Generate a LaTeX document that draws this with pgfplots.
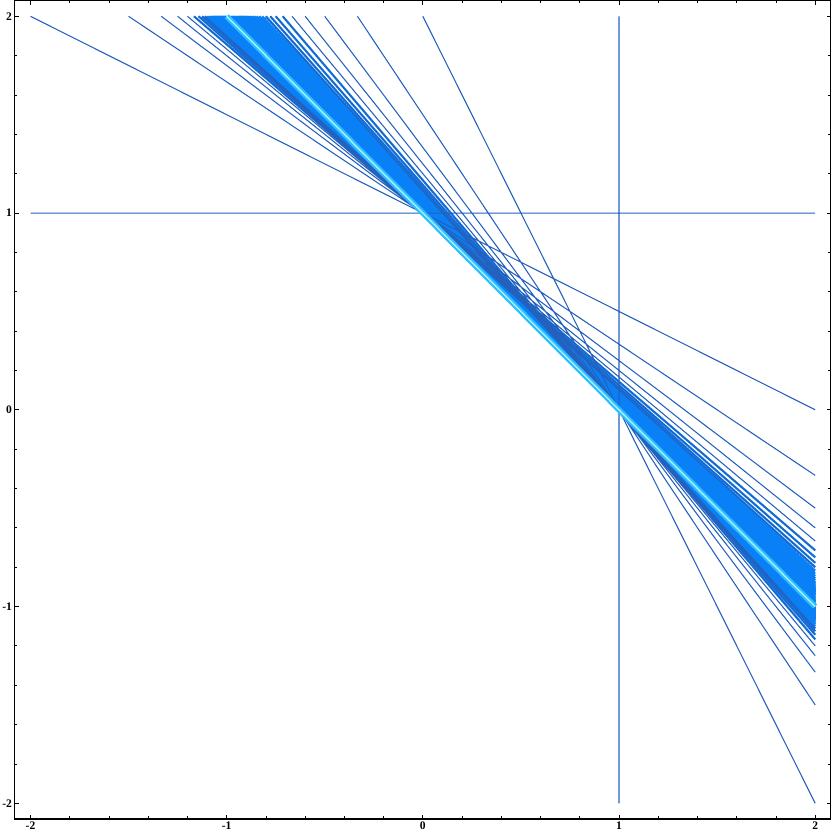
\documentclass[border=0pt]{standalone}
\usepackage{fontspec}
\setmainfont{Liberation Serif}
\usepackage{pgfplots}
\usepackage{pgfplotstable}
\pgfplotsset{compat=1.18}
\definecolor{lineblue}{rgb}{0.14,0.38,0.74}
\definecolor{brightblue}{rgb}{0.04,0.50,0.97}
\definecolor{cyanc}{rgb}{0.18,0.74,1.0}
\definecolor{cyanl}{rgb}{0.65,0.94,1.0}
% columns: x y n  (each segment ended by a nan row)
\pgfplotstableread{
x y n
-2 1 0
2 1 0
nan nan 0
1 2 0
1 -2 0
nan nan 0
-2 2 1
2 0 1
nan nan 1
0 2 1
2 -2 1
nan nan 1
-1.5 2 2
2 -0.3333 2
nan nan 2
-0.3333 2 2
2 -1.5 2
nan nan 2
-1.3333 2 3
2 -0.5 3
nan nan 3
-0.5 2 3
2 -1.3333 3
nan nan 3
-1.25 2 4
2 -0.6 4
nan nan 4
-0.6 2 4
2 -1.25 4
nan nan 4
-1.2 2 5
2 -0.6667 5
nan nan 5
-0.6667 2 5
2 -1.2 5
nan nan 5
-1.1667 2 6
2 -0.7143 6
nan nan 6
-0.7143 2 6
2 -1.1667 6
nan nan 6
-1.1429 2 7
2 -0.75 7
nan nan 7
-0.75 2 7
2 -1.1429 7
nan nan 7
-1.125 2 8
2 -0.7778 8
nan nan 8
-0.7778 2 8
2 -1.125 8
nan nan 8
-1.1111 2 9
2 -0.8 9
nan nan 9
-0.8 2 9
2 -1.1111 9
nan nan 9
-1.1 2 10
2 -0.8182 10
nan nan 10
-0.8182 2 10
2 -1.1 10
nan nan 10
-1.0909 2 11
2 -0.8333 11
nan nan 11
-0.8333 2 11
2 -1.0909 11
nan nan 11
-1.0833 2 12
2 -0.8462 12
nan nan 12
-0.8462 2 12
2 -1.0833 12
nan nan 12
-1.0769 2 13
2 -0.8571 13
nan nan 13
-0.8571 2 13
2 -1.0769 13
nan nan 13
-1.0714 2 14
2 -0.8667 14
nan nan 14
-0.8667 2 14
2 -1.0714 14
nan nan 14
-1.0667 2 15
2 -0.875 15
nan nan 15
-0.875 2 15
2 -1.0667 15
nan nan 15
-1.0625 2 16
2 -0.8824 16
nan nan 16
-0.8824 2 16
2 -1.0625 16
nan nan 16
-1.0588 2 17
2 -0.8889 17
nan nan 17
-0.8889 2 17
2 -1.0588 17
nan nan 17
-1.0556 2 18
2 -0.8947 18
nan nan 18
-0.8947 2 18
2 -1.0556 18
nan nan 18
-1.0526 2 19
2 -0.9 19
nan nan 19
-0.9 2 19
2 -1.0526 19
nan nan 19
-1.05 2 20
2 -0.9048 20
nan nan 20
-0.9048 2 20
2 -1.05 20
nan nan 20
-1.0476 2 21
2 -0.9091 21
nan nan 21
-0.9091 2 21
2 -1.0476 21
nan nan 21
-1.0455 2 22
2 -0.9130 22
nan nan 22
-0.9130 2 22
2 -1.0455 22
nan nan 22
-1.0435 2 23
2 -0.9167 23
nan nan 23
-0.9167 2 23
2 -1.0435 23
nan nan 23
-1.0417 2 24
2 -0.92 24
nan nan 24
-0.92 2 24
2 -1.0417 24
nan nan 24
-1.04 2 25
2 -0.9231 25
nan nan 25
-0.9231 2 25
2 -1.04 25
nan nan 25
-1.0385 2 26
2 -0.9259 26
nan nan 26
-0.9259 2 26
2 -1.0385 26
nan nan 26
-1.037 2 27
2 -0.9286 27
nan nan 27
-0.9286 2 27
2 -1.037 27
nan nan 27
-1.0357 2 28
2 -0.9310 28
nan nan 28
-0.9310 2 28
2 -1.0357 28
nan nan 28
-1.0333 2 30
2 -0.9355 30
nan nan 30
-0.9355 2 30
2 -1.0333 30
nan nan 30
-1.0313 2 32
2 -0.9394 32
nan nan 32
-0.9394 2 32
2 -1.0313 32
nan nan 32
-1.0286 2 35
2 -0.9444 35
nan nan 35
-0.9444 2 35
2 -1.0286 35
nan nan 35
-1.025 2 40
2 -0.9512 40
nan nan 40
-0.9512 2 40
2 -1.025 40
nan nan 40
-1.0222 2 45
2 -0.9565 45
nan nan 45
-0.9565 2 45
2 -1.0222 45
nan nan 45
-1.02 2 50
2 -0.9608 50
nan nan 50
-0.9608 2 50
2 -1.02 50
nan nan 50
-1.0167 2 60
2 -0.9672 60
nan nan 60
-0.9672 2 60
2 -1.0167 60
nan nan 60
-1.0143 2 70
2 -0.9718 70
nan nan 70
-0.9718 2 70
2 -1.0143 70
nan nan 70
-1.0125 2 80
2 -0.9753 80
nan nan 80
-0.9753 2 80
2 -1.0125 80
nan nan 80
-1.01 2 100
2 -0.9802 100
nan nan 100
-0.9802 2 100
2 -1.01 100
nan nan 100
-1.0067 2 150
2 -0.9868 150
nan nan 150
-0.9868 2 150
2 -1.0067 150
nan nan 150
-1.005 2 200
2 -0.99 200
nan nan 200
-0.99 2 200
2 -1.005 200
nan nan 200
}\linestable
\begin{document}
\begin{tikzpicture}
\begin{axis}[
  scale only axis,
  width=346pt, height=347pt,
  xmin=-2.08, xmax=2.08, ymin=-2.08, ymax=2.08,
  xtick={-2,-1,0,1,2}, ytick={-2,-1,0,1,2},
  minor x tick num=4, minor y tick num=4,
  tick align=inside,
  major tick length=1.8pt, minor tick length=1.1pt,
  every tick/.style={black, line width=0.35pt},
  axis line style={black, line width=0.5pt},
  /pgf/number format/assume math mode=true,
  tick label style={font=\fontsize{4.9}{5.5}\selectfont\bfseries, inner sep=1pt},
  unbounded coords=jump,
  clip=true,
]
\addplot[brightblue, line width=0.9pt, no markers,
  restrict expr to domain={\thisrow{n}}{6:1000}]
  table[x=x, y=y] {\linestable};
\addplot[lineblue, line width=0.45pt, no markers,
  restrict expr to domain={\thisrow{n}}{0:9}]
  table[x=x, y=y] {\linestable};
\addplot[cyanc, line width=2.4pt, no markers] coordinates {(-1,2) (2,-1)};
\addplot[cyanl, line width=0.6pt, no markers] coordinates {(-1,2) (2,-1)};
\end{axis}
\end{tikzpicture}
\end{document}
